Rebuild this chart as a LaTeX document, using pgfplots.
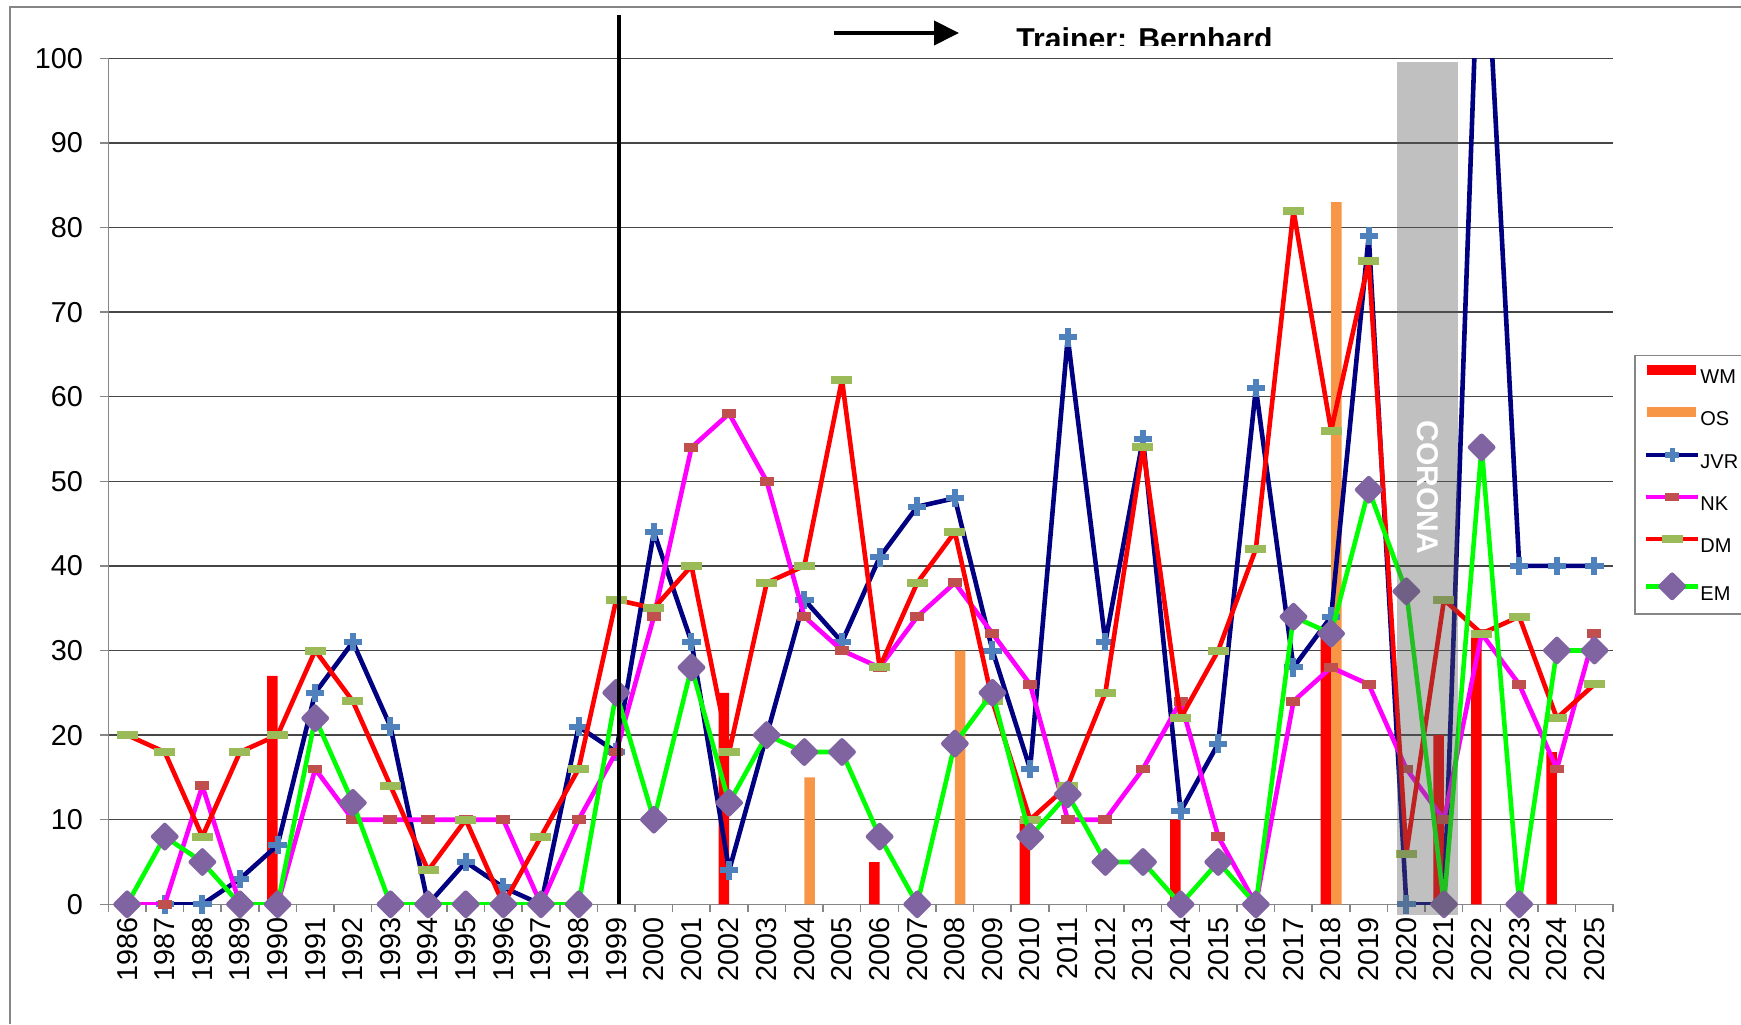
\documentclass[border=0pt]{standalone}
\usepackage{fontspec}
\setmainfont{Liberation Sans}
\usepackage{pgfplots}
\pgfplotsset{compat=1.18}
\usetikzlibrary{arrows.meta}
\definecolor{wmc}{HTML}{FF0000}
\definecolor{osc}{HTML}{F79646}
\definecolor{jvrl}{HTML}{000080}
\definecolor{jvrm}{HTML}{4F81BD}
\definecolor{nkl}{HTML}{FF00FF}
\definecolor{nkm}{HTML}{C0504D}
\definecolor{dml}{HTML}{FF0000}
\definecolor{dmm}{HTML}{9BBB59}
\definecolor{eml}{HTML}{00FF00}
\definecolor{emm}{HTML}{8064A2}
\definecolor{bandc}{RGB}{90,90,90}
\definecolor{gridc}{RGB}{70,70,70}
\definecolor{framec}{RGB}{134,134,134}
\pgfdeclareplotmark{dmdash}{\pgfsetcornersarced{\pgfqpoint{1.6pt}{1.6pt}}%
  \pgfpathrectangle{\pgfqpoint{-5.25pt}{-2pt}}{\pgfqpoint{10.5pt}{4pt}}\pgfusepathqfill}
\pgfdeclareplotmark{nkdash}{\pgfsetcornersarced{\pgfqpoint{1.8pt}{1.8pt}}%
  \pgfpathrectangle{\pgfqpoint{-3.5pt}{-2.2pt}}{\pgfqpoint{7pt}{4.4pt}}\pgfusepathqfill}
\pgfplotsset{
  jvrlegend/.style={legend image code/.code={\draw[jvrl, line width=2.3pt] (0pt,3.4pt) -- (26pt,3.4pt);
    \draw plot[only marks, mark=+, mark size=3.6pt, mark options={jvrm, line width=2.6pt}] coordinates {(13pt,3.4pt)};}},
}
\begin{document}
\begin{tikzpicture}
\begin{axis}[
  at={(54.15pt,59.85pt)}, anchor=south west,
  scale only axis, width=752.5pt, height=423pt,
  xmin=1985.5, xmax=2025.5, ymin=0, ymax=100,
  axis x line=bottom, axis y line=left,
  axis line style={-, draw=framec, line width=0.75pt},
  xtick={1986,...,2025},
  xtick style={draw=none},
  extra x ticks={1985.5,1986.5,...,2025.5},
  extra x tick labels={},
  extra x tick style={xtick style={draw=framec, line width=0.75pt}},
  ytick={0,10,...,100},
  ytick style={draw=framec, line width=0.75pt},
  ymajorgrids, major grid style={gridc, line width=0.7pt},
  tick align=outside,
  major tick length=4pt,
  /pgf/number format/assume math mode=true,
  /pgf/number format/1000 sep={},
  tick label style={font=\fontsize{14.4}{16}\selectfont},
  xticklabel style={rotate=90, anchor=east, inner sep=0pt, xshift=-2.5pt},
  yticklabel style={anchor=east, inner sep=0pt, xshift=-8.5pt},
  clip mode=individual,
  legend cell align=left,
  legend style={at={(1.0138,0.6493)}, anchor=north west, draw=framec, line width=0.75pt,
    inner xsep=4.5pt, inner ysep=4pt, font=\fontsize{10}{12}\selectfont,
    row sep=8pt, column sep=0pt,
    nodes={inner sep=0pt, text height=10pt, text depth=3pt}},
  legend image code/.code={\draw[mark repeat=2,mark phase=2,#1] plot coordinates {(0pt,3.4pt) (13pt,3.4pt) (26pt,3.4pt)};},
]
% WM bars
\addplot[ybar, bar width=0.28, bar shift=-0.14, fill=wmc, draw=none,
  legend image code/.code={\fill[wmc] (0.5pt,1.05pt) rectangle (25pt,5.75pt);}]
  coordinates {(1990,27) (2002,25) (2006,5) (2010,10) (2014,10) (2018,32) (2021,20) (2022,32) (2024,18)};
\addlegendentry{WM}
% OS bars
\addplot[ybar, bar width=0.28, bar shift=0.14, fill=osc, draw=none,
  legend image code/.code={\fill[osc] (0.5pt,1.05pt) rectangle (25pt,5.75pt);}]
  coordinates {(2004,15) (2008,30) (2018,83)};
\addlegendentry{OS}
% JVR line
\addplot[jvrl, line width=2.3pt, line join=round, mark=none, forget plot]
  coordinates {(1987,0) (1988,0) (1989,3) (1990,7) (1991,25) (1992,31) (1993,21) (1994,0) (1995,5) (1996,2) (1997,0) (1998,21) (1999,18) (2000,44) (2001,31) (2002,4) (2003,20) (2004,36) (2005,31) (2006,41) (2007,47) (2008,48) (2009,30) (2010,16) (2011,67) (2012,31) (2013,55) (2014,11) (2015,19) (2016,61) (2017,28) (2018,34) (2019,79) (2020,0) (2021,0) (2022,124) (2023,40) (2024,40) (2025,40)};
% JVR marks (2022 lies above the axis)
\addplot[only marks, mark=+, mark size=4.6pt, mark options={jvrm, line width=3pt}, jvrlegend]
  coordinates {(1987,0) (1988,0) (1989,3) (1990,7) (1991,25) (1992,31) (1993,21) (1994,0) (1995,5) (1996,2) (1997,0) (1998,21) (1999,18) (2000,44) (2001,31) (2002,4) (2003,20) (2004,36) (2005,31) (2006,41) (2007,47) (2008,48) (2009,30) (2010,16) (2011,67) (2012,31) (2013,55) (2014,11) (2015,19) (2016,61) (2017,28) (2018,34) (2019,79) (2020,0) (2021,0) (2023,40) (2024,40) (2025,40)};
\addlegendentry{JVR}
% NK
\addplot[nkl, line width=2.3pt, line join=round, mark=nkdash, mark options={nkm}]
  coordinates {(1986,0) (1987,0) (1988,14) (1989,0) (1990,0) (1991,16) (1992,10) (1993,10) (1994,10) (1995,10) (1996,10) (1997,0) (1998,10) (1999,18) (2000,34) (2001,54) (2002,58) (2003,50) (2004,34) (2005,30) (2006,28) (2007,34) (2008,38) (2009,32) (2010,26) (2011,10) (2012,10) (2013,16) (2014,24) (2015,8) (2016,0) (2017,24) (2018,28) (2019,26) (2020,16) (2021,10) (2022,32) (2023,26) (2024,16) (2025,32)};
\addlegendentry{NK}
% DM
\addplot[dml, line width=2.3pt, line join=round, mark=dmdash, mark options={dmm}]
  coordinates {(1986,20) (1987,18) (1988,8) (1989,18) (1990,20) (1991,30) (1992,24) (1993,14) (1994,4) (1995,10) (1996,0) (1997,8) (1998,16) (1999,36) (2000,35) (2001,40) (2002,18) (2003,38) (2004,40) (2005,62) (2006,28) (2007,38) (2008,44) (2009,24) (2010,10) (2011,14) (2012,25) (2013,54) (2014,22) (2015,30) (2016,42) (2017,82) (2018,56) (2019,76) (2020,6) (2021,36) (2022,32) (2023,34) (2024,22) (2025,26)};
\addlegendentry{DM}
% EM
\addplot[eml, line width=2.3pt, line join=round, mark=square*, mark size=4.1pt, mark options={emm, rotate=45}]
  coordinates {(1986,0) (1987,8) (1988,5) (1989,0) (1990,0) (1991,22) (1992,12) (1993,0) (1994,0) (1995,0) (1996,0) (1997,0) (1998,0) (1999,25) (2000,10) (2001,28) (2002,12) (2003,20) (2004,18) (2005,18) (2006,8) (2007,0) (2008,19) (2009,25) (2010,8) (2011,13) (2012,5) (2013,5) (2014,0) (2015,5) (2016,0) (2017,34) (2018,32) (2019,49) (2020,37) (2021,0) (2022,54) (2023,0) (2024,30) (2025,30)};
\addlegendentry{EM}
% Corona band
\fill[bandc, fill opacity=0.38] (axis cs:2019.76,-1.3) rectangle (axis cs:2021.36,99.6);
\node[rotate=-90, text=white, font=\fontsize{15}{18}\bfseries\selectfont, inner sep=0pt] at (axis cs:2020.56,49.3) {CORONA};
\end{axis}
% separator at 1999 and trainer annotation
\draw[black, line width=2pt] (309.3pt,59.85pt) -- (309.3pt,504.5pt);
\draw[black, line width=2pt, -{Triangle[length=12.5pt,width=12pt]}] (417pt,495.5pt) -- (479.5pt,495.5pt);
\begin{scope}
\clip (500pt,489pt) rectangle (660pt,512pt);
\node[anchor=base west, inner sep=0pt, font=\fontsize{15.1}{18}\bfseries\selectfont] at (508pt,487.2pt) {Trainer: Bernhard};
\end{scope}
% chart frame
\draw[framec, line width=0.75pt] (5pt,0pt) -- (5pt,508.5pt) -- (880pt,508.5pt);
\pgfresetboundingbox
\path[use as bounding box] (0pt,0pt) rectangle (870.5pt,512pt);
\end{tikzpicture}
\end{document}
